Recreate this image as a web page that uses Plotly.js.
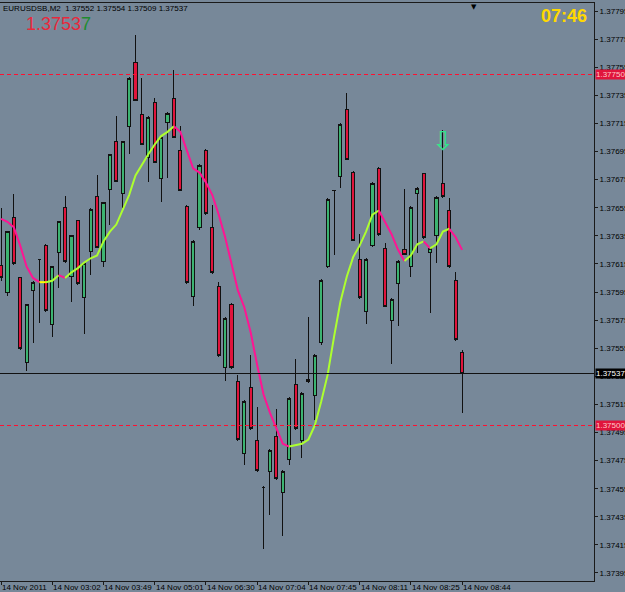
<!DOCTYPE html>
<html><head><meta charset="utf-8">
<script src="https://cdn.plot.ly/plotly-3.0.1.min.js"></script>
<style>html,body{margin:0;padding:0;background:#778899;overflow:hidden;}
.shapelayer path{shape-rendering:crispEdges;}
.boxlayer path{shape-rendering:crispEdges;}
</style>
</head><body><div id="chart" style="width:625px;height:592px;"></div>
<script>
// ---- data ----
const symbolTitle = "EURUSDSB,M2";
const open  = [1.37614,1.37595,1.37648,1.37605,1.37545,1.37596,1.37618,1.37628,1.37572,1.37623,
               1.37655,1.37606,1.37646,1.37591,1.37624,1.37663,1.37617,1.37668,1.37702,1.37665,
               1.37713,1.37758,1.37721,1.37691,1.37730,1.37676,1.37716,1.37733,1.37696,1.37656,
               1.37592,1.37641,1.37696,1.37641,1.37599,1.37541,1.37586,1.37531,1.37480,1.37527,
               1.37489,1.37456,1.37467,1.37492,1.37452,1.37476,1.37529,1.37489,1.37533,1.37521,
               1.37559,1.37613,1.37667,1.37677,1.37725,1.37680,1.37618,1.37581,1.37628,1.37683,
               1.37626,1.37575,1.37601,1.37625,1.37613,1.37665,1.37679,1.37623,1.37635,1.37672,
               1.37653,1.37603,1.37552];
const high  = [1.37655,1.37638,1.37665,1.37606,1.37586,1.37603,1.37618,1.37629,1.37613,1.37645,
               1.37663,1.37635,1.37646,1.37615,1.37655,1.37678,1.37659,1.37693,1.37720,1.37702,
               1.37748,1.37778,1.37747,1.37720,1.37733,1.37705,1.37723,1.37753,1.37713,1.37657,
               1.37632,1.37686,1.37697,1.37657,1.37602,1.37577,1.37587,1.37536,1.37518,1.37550,
               1.37513,1.37457,1.37483,1.37512,1.37468,1.37520,1.37547,1.37524,1.37577,1.37551,
               1.37604,1.37662,1.37667,1.37715,1.37737,1.37681,1.37636,1.37619,1.37673,1.37684,
               1.37630,1.37591,1.37618,1.37668,1.37656,1.37670,1.37680,1.37627,1.37663,1.37710,
               1.37662,1.37609,1.37554];
const low   = [1.37603,1.37592,1.37614,1.37554,1.37539,1.37559,1.37573,1.37581,1.37563,1.37598,
               1.37616,1.37588,1.37600,1.37565,1.37607,1.37627,1.37613,1.37643,1.37674,1.37655,
               1.37693,1.37731,1.37700,1.37673,1.37687,1.37659,1.37676,1.37705,1.37667,1.37601,
               1.37585,1.37639,1.37650,1.37608,1.37549,1.37532,1.37540,1.37489,1.37472,1.37497,
               1.37467,1.37412,1.37436,1.37461,1.37421,1.37472,1.37497,1.37477,1.37530,1.37504,
               1.37557,1.37612,1.37621,1.37669,1.37689,1.37631,1.37590,1.37572,1.37627,1.37635,
               1.37584,1.37544,1.37571,1.37621,1.37606,1.37623,1.37633,1.37580,1.37616,1.37662,
               1.37612,1.37560,1.37509];
const close = [1.37605,1.37638,1.37615,1.37555,1.37586,1.37602,1.37618,1.37582,1.37613,1.37645,
               1.37617,1.37635,1.37601,1.37615,1.37654,1.37627,1.37659,1.37693,1.37674,1.37702,
               1.37747,1.37731,1.37700,1.37719,1.37687,1.37705,1.37722,1.37705,1.37667,1.37602,
               1.37631,1.37685,1.37651,1.37609,1.37550,1.37576,1.37541,1.37490,1.37517,1.37498,
               1.37468,1.37456,1.37482,1.37462,1.37467,1.37519,1.37498,1.37523,1.37531,1.37550,
               1.37603,1.37661,1.37667,1.37714,1.37689,1.37632,1.37591,1.37618,1.37672,1.37636,
               1.37585,1.37590,1.37617,1.37622,1.37655,1.37669,1.37634,1.37626,1.37662,1.37663,
               1.37613,1.37561,1.37537];
const movingAvg = [1.37647,1.37645,1.37641,1.37628,1.37613,1.37605,1.37602,1.37602,1.37603,1.37607,
               1.37605,1.37609,1.37612,1.37616,1.37619,1.37621,1.37631,1.37638,1.37643,1.37653,
               1.37664,1.37678,1.37686,1.37693,1.37700,1.37706,1.37709,1.37713,1.37709,1.37696,
               1.37683,1.37680,1.37673,1.37664,1.37650,1.37634,1.37616,1.37596,1.37584,1.37566,
               1.37543,1.37522,1.37509,1.37498,1.37487,1.37485,1.37486,1.37487,1.37490,1.37500,
               1.37517,1.37536,1.37563,1.37588,1.37606,1.37620,1.37628,1.37638,1.37650,1.37653,
               1.37645,1.37636,1.37625,1.37617,1.37621,1.37629,1.37631,1.37626,1.37629,1.37638,
               1.37640,1.37634,1.37625];
const xTickBars   = [0, 8, 16, 24, 32, 40, 48, 56, 64, 72];
const xTickLabels = ["14 Nov 2011","14 Nov 03:02","14 Nov 03:49","14 Nov 05:01","14 Nov 06:30",
                     "14 Nov 07:04","14 Nov 07:45","14 Nov 08:11","14 Nov 08:25","14 Nov 08:44"];
const yTickValues = [1.37795,1.37775,1.37755,1.37735,1.37715,1.37695,1.37675,1.37655,1.37635,1.37615,
                     1.37595,1.37575,1.37555,1.37535,1.37515,1.37495,1.37475,1.37455,1.37435,1.37415,1.37395];
const alertLevels = [1.37750, 1.37500];
const bidPrice = 1.37537;
const signalBar = 69;
const clockText = "07:46";

// ---- build ----
const barIndex = open.map((_, i) => i);
const fontFam = "Liberation Sans, Arial, sans-serif";

const traces = [{
  type: 'candlestick', x: barIndex, open: open, high: high, low: low, close: close,
  increasing: {line: {color: '#111111', width: 1}, fillcolor: '#3CB371'},
  decreasing: {line: {color: '#111111', width: 1}, fillcolor: '#E0143C'},
  whiskerwidth: 0, hoverinfo: 'skip', showlegend: false
}];

function segColor(d) { return d > 1e-9 ? '#ADFF2F' : (d < -1e-9 ? '#FF1493' : '#FFFF00'); }
function mk(a, b, color) {
  return {type: 'scatter', mode: 'lines', x: barIndex.slice(a, b + 1), y: movingAvg.slice(a, b + 1),
          line: {color: color, width: 2}, hoverinfo: 'skip', showlegend: false};
}
let runStart = 0, runColor = segColor(movingAvg[1] - movingAvg[0]);
for (let i = 1; i < movingAvg.length; i++) {
  const c = segColor(movingAvg[i] - movingAvg[i - 1]);
  if (c !== runColor) { traces.push(mk(runStart, i - 1, runColor)); runStart = i - 1; runColor = c; }
}
traces.push(mk(runStart, movingAvg.length - 1, runColor));

traces.push({
  type: 'scatter', mode: 'text', x: [signalBar], y: [high[signalBar]], text: ['⇩'],
  textposition: 'bottom center', textfont: {family: 'DejaVu Sans', size: 26, color: '#2EE88A'},
  hoverinfo: 'skip', showlegend: false, cliponaxis: false
});

const shapes = alertLevels.map(v => ({type: 'line', xref: 'paper', x0: 0, x1: 1, y0: v, y1: v,
  line: {color: '#FF1030', width: 1.4, dash: '4px,3px'}}));
shapes.push({type: 'line', xref: 'paper', x0: 0, x1: 1, y0: bidPrice, y1: bidPrice, line: {color: '#111111', width: 1}});

const annotations = xTickBars.map((b, k) => ({
  x: b, xref: 'x', y: 0, yref: 'paper', text: xTickLabels[k], showarrow: false,
  xanchor: 'left', yanchor: 'top', xshift: 0, yshift: -1, borderpad: 0,
  font: {family: fontFam, size: 8, color: '#000000'}
}));
alertLevels.forEach(v => annotations.push({
  x: 1, xref: 'paper', y: v, yref: 'y', text: v.toFixed(5), showarrow: false,
  xanchor: 'left', yanchor: 'middle', xshift: 1, bgcolor: '#E0143C', borderpad: 0,
  font: {family: fontFam, size: 8, color: '#FFC8C8'}
}));
annotations.push({
  x: 1, xref: 'paper', y: bidPrice, yref: 'y', text: bidPrice.toFixed(5), showarrow: false,
  xanchor: 'left', yanchor: 'middle', xshift: 1, bgcolor: '#000000', borderpad: 0,
  font: {family: fontFam, size: 8, color: '#FFFFFF'}
});
annotations.push({
  x: 0, xref: 'paper', y: 1, yref: 'paper', xanchor: 'left', yanchor: 'top', xshift: 2, yshift: 0,
  showarrow: false, borderpad: 0,
  text: symbolTitle + '\u00a0\u00a0' + [open, high, low, close].map(a => a[a.length - 1].toFixed(5)).join('\u00a0'),
  font: {family: fontFam, size: 8, color: '#000000'}
});
const lastStr = close[close.length - 1].toFixed(5);
annotations.push({
  x: 0, xref: 'paper', y: 1, yref: 'paper', xanchor: 'left', yanchor: 'top', xshift: 25, yshift: -10,
  showarrow: false, borderpad: 0,
  text: '<span style="color:#E8283C">' + lastStr.slice(0, -1) + '</span><span style="color:#1E8C2E">' + lastStr.slice(-1) + '</span>',
  font: {family: fontFam, size: 18, color: '#E8283C'}
});
annotations.push({
  x: 0.99, xref: 'paper', y: 1, yref: 'paper', xanchor: 'right', yanchor: 'top', yshift: -2,
  showarrow: false, borderpad: 0, text: '<b>' + clockText + '</b>',
  font: {family: fontFam, size: 18, color: '#FFD800'}
});
annotations.push({
  x: 0.798, xref: 'paper', y: 1, yref: 'paper', xanchor: 'center', yanchor: 'top', yshift: 1,
  showarrow: false, borderpad: 0, text: '▼', font: {family: 'DejaVu Sans', size: 7, color: '#000000'}
});

const layout = {
  width: 625, height: 592, margin: {l: 0, r: 31, t: 3, b: 11, pad: 0},
  paper_bgcolor: '#778899', plot_bgcolor: '#778899', showlegend: false, dragmode: false,
  xaxis: {range: [-0.16, 92.6], rangeslider: {visible: false}, showgrid: false, zeroline: false,
          showline: true, mirror: true, linecolor: '#1a1a1a', linewidth: 1,
          tickmode: 'array', tickvals: xTickBars, ticktext: xTickBars.map(() => ''),
          ticks: 'outside', ticklen: 3, tickcolor: '#1a1a1a', fixedrange: true},
  yaxis: {side: 'right', range: [1.373893, 1.378007], showgrid: false, zeroline: false,
          showline: true, mirror: true, linecolor: '#1a1a1a', linewidth: 1,
          tickmode: 'array', tickvals: yTickValues, ticktext: yTickValues.map(v => v.toFixed(5)),
          ticks: 'outside', ticklen: 3, tickcolor: '#1a1a1a',
          tickfont: {family: fontFam, size: 8, color: '#000000'}, fixedrange: true},
  shapes: shapes, annotations: annotations
};
Plotly.newPlot('chart', traces, layout, {staticPlot: true, displayModeBar: false});
</script></body></html>
